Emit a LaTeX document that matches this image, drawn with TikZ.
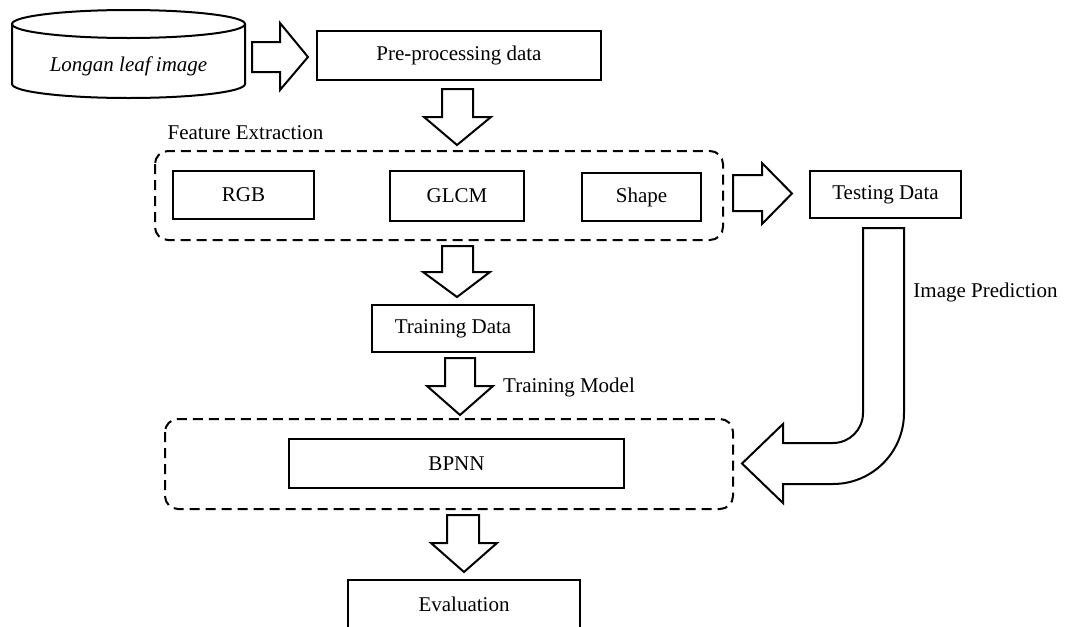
\documentclass[tikz,border=0pt]{standalone}
\usepackage{fontspec}
\setmainfont{Liberation Serif}
\begin{document}
\begin{tikzpicture}[x=1pt,y=-1pt,
  font=\fontsize{21}{25}\selectfont,
  box/.style={draw,line width=1.6pt,rectangle,inner sep=0pt},
  grp/.style={draw,line width=2pt,dash pattern=on 10pt off 6pt,rounded corners=13pt},
  blk/.style={draw,line width=2pt,fill=white,line join=miter},
  lbl/.style={inner sep=0pt}]
\clip (0,0) rectangle (1072,627);
\fill[white] (0,0) rectangle (1072,627);

% database cylinder
\draw[line width=2pt] (12,24) -- (12,84) arc[start angle=180,end angle=0,x radius=116.5,y radius=14] -- (245,24);
\draw[line width=2pt] (128.5,24) ellipse[x radius=116.5,y radius=14];
\node[lbl] (db) at (128.5,66) {\itshape Longan leaf image};

% boxes
\node[box,minimum width=284,minimum height=49] (pre) at (459,55.5) {Pre-processing data};
\node[box,minimum width=141,minimum height=48] (rgb) at (243.5,195) {RGB};
\node[box,minimum width=134,minimum height=50] (glcm) at (457,196) {GLCM};
\node[box,minimum width=119,minimum height=48] (shape) at (641.5,197) {Shape};
\node[box,minimum width=151,minimum height=47] (test) at (885.5,194.5) {Testing Data};
\node[box,minimum width=162,minimum height=47] (train) at (453,328.5) {Training Data};
\node[box,minimum width=335,minimum height=49] (bpnn) at (456.5,463.5) {BPNN};
\node[box,minimum width=232,minimum height=70,anchor=north] (eval) at (464,579) {};
\node[lbl] (evaltxt) at (464,604) {Evaluation};

% dashed groups
\draw[grp] (155,151) rectangle (723,240);
\draw[grp] (165,419) rectangle (733,509);

% labels
\node[lbl] (fe) at (245.5,133) {Feature Extraction};
\node[lbl,anchor=west] (tm) at (503,387) {Training Model};
\node[lbl] (ip) at (985.5,292) {Image Prediction};

% block arrows
\draw[blk] (252,42) -- (280,42) -- (280,23) -- (308,57) -- (280,90) -- (280,72) -- (252,72) -- cycle;
\draw[blk] (442,89) -- (473,89) -- (473,117) -- (491,117) -- (457,145) -- (424,117) -- (442,117) -- cycle;
\draw[blk] (733,175) -- (762,175) -- (762,163) -- (792,193.5) -- (762,224) -- (762,211) -- (733,211) -- cycle;
\draw[blk] (442,246) -- (473,246) -- (473,272) -- (490,272) -- (457,297) -- (423,272) -- (442,272) -- cycle;
\draw[blk] (445,358) -- (475,358) -- (475,386) -- (493,386) -- (460,415) -- (427,386) -- (445,386) -- cycle;
\draw[blk] (447,515) -- (479,515) -- (479,543) -- (497,543) -- (464,572) -- (431,543) -- (447,543) -- cycle;
\draw[blk] (863,228) -- (904,228) -- (904,413) arc[start angle=0,end angle=90,radius=71]
  -- (783,484) -- (783,503) -- (742,463.5) -- (783,424) -- (783,443) -- (833,443)
  arc[start angle=90,end angle=0,radius=30] -- cycle;
\end{tikzpicture}
\end{document}
